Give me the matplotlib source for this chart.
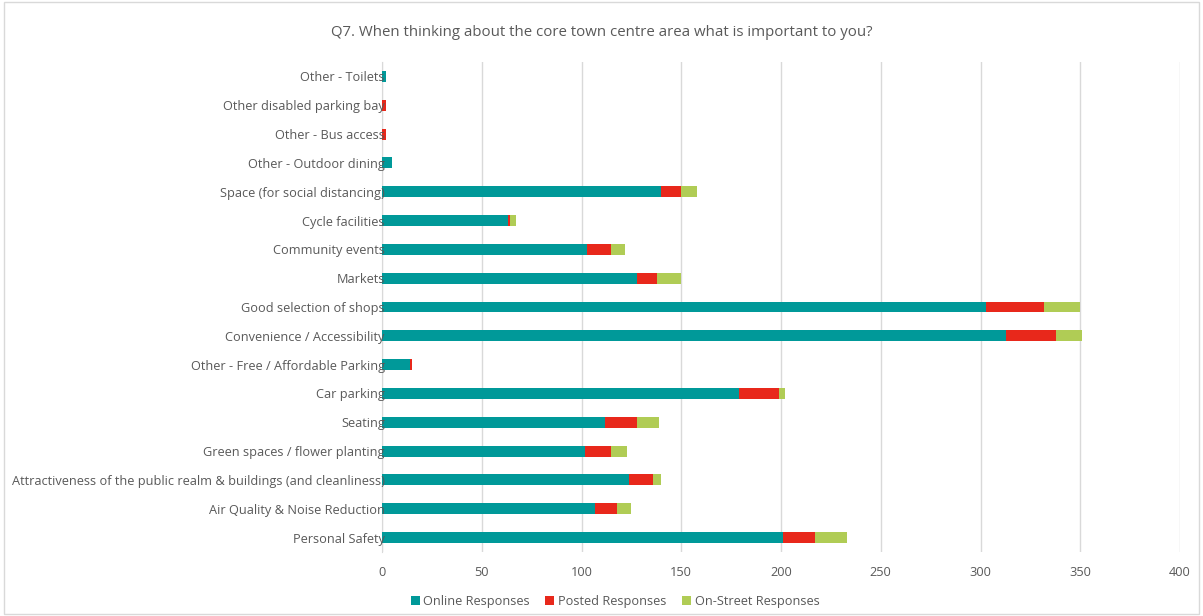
import numpy as np
import matplotlib.pyplot as plt

# =========================
# DATA (bottom to top)
# =========================
categories = [
    "Personal Safety",
    "Air Quality & Noise Reduction",
    "Attractiveness of the public realm & buildings (and cleanliness)",
    "Green spaces / flower planting",
    "Seating",
    "Car parking",
    "Other - Free / Affordable Parking",
    "Convenience / Accessibility",
    "Good selection of shops",
    "Markets",
    "Community events",
    "Cycle facilities",
    "Space (for social distancing)",
    "Other - Outdoor dining",
    "Other - Bus access",
    "Other disabled parking bay",
    "Other - Toilets",
]
online = [201, 107, 124, 102, 112, 179, 14, 313, 303, 128, 103, 63, 140, 5, 0, 0, 2]
posted = [16, 11, 12, 13, 16, 20, 1, 25, 29, 10, 12, 1, 10, 0, 2, 2, 0]
street = [16, 7, 4, 8, 11, 3, 0, 13, 18, 12, 7, 3, 8, 0, 0, 0, 0]

series = ["Online Responses", "Posted Responses", "On-Street Responses"]
colors = ["#009999", "#E8281B", "#B0CC55"]

# =========================
# PLOT
# =========================
plt.rcParams["font.family"] = ["Open Sans", "DejaVu Sans"]
text_col = "#595959"

fig = plt.figure(figsize=(12.03, 6.16), dpi=100)
ax = fig.add_axes([382 / 1203, 1 - 552 / 616, (1180 - 382) / 1203, (552 - 62) / 616])

y = np.arange(len(categories))
left = np.zeros(len(categories))
for vals, name, col in zip([online, posted, street], series, colors):
    ax.barh(y, vals, left=left, height=0.38, color=col, label=name, zorder=3)
    left += np.array(vals)

ax.set_xlim(0, 400)
ax.set_ylim(-0.5, len(categories) - 0.5)
ax.set_xticks(np.arange(0, 401, 50))
ax.set_yticks(y)
ax.set_yticklabels(categories)
ax.tick_params(axis="both", length=0, labelsize=9.2, labelcolor=text_col)
ax.tick_params(axis="y", pad=-2)
ax.tick_params(axis="x", pad=10)
ax.grid(axis="x", color="#D9D9D9", linewidth=1)
for s in ["top", "right", "bottom"]:
    ax.spines[s].set_visible(False)
ax.spines["left"].set_color("#D9D9D9")
# grid under the bars, category labels over them
ax.xaxis.set_zorder(1)
ax.yaxis.set_zorder(4)

fig.text(0.5, 1 - 32 / 616, "Q7. When thinking about the core town centre area what is important to you?",
         ha="center", va="center", fontsize=10.8, color=text_col)

fig.legend(loc="center", bbox_to_anchor=(615 / 1203, 1 - 601 / 616), ncol=3, frameon=False,
           fontsize=9.2, labelcolor=text_col, handlelength=0.7, handleheight=0.7,
           handletextpad=0.3, columnspacing=1.2)

# chart border
fig.patches.append(plt.Rectangle((0.003, 0.003), 0.994, 0.994, transform=fig.transFigure,
                                 fill=False, edgecolor="#D9D9D9", linewidth=1))

plt.savefig("out.png", dpi=100)
